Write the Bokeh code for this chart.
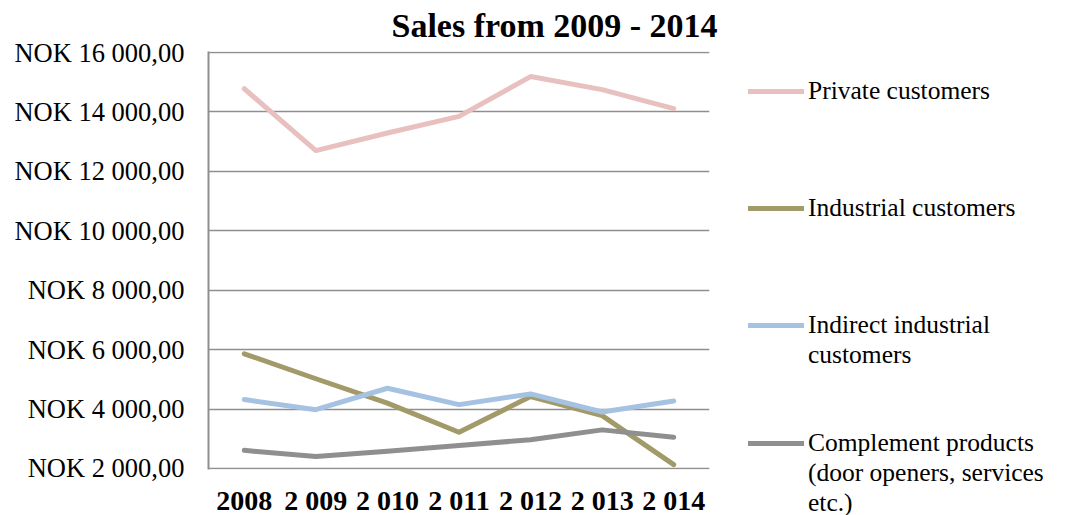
from bokeh.plotting import figure
from bokeh.models import FixedTicker, Legend, LegendItem, Title, FactorRange, Range1d
from bokeh.embed import file_html
from bokeh.resources import INLINE

years = ["2008", "2 009", "2 010", "2 011", "2 012", "2 013", "2 014"]
private_customers = [14780, 12700, 13290, 13850, 15190, 14750, 14110]
industrial_customers = [5860, 5020, 4200, 3220, 4420, 3780, 2130]
indirect_industrial = [4320, 3980, 4700, 4150, 4510, 3900, 4270]
complement_products = [2610, 2400, 2580, 2770, 2970, 3300, 3050]

y_ticks = [2000, 4000, 6000, 8000, 10000, 12000, 14000, 16000]
y_tick_labels = ["NOK 2 000,00", "NOK 4 000,00", "NOK 6 000,00", "NOK 8 000,00",
                 "NOK 10 000,00", "NOK 12 000,00", "NOK 14 000,00", "NOK 16 000,00"]

# legend labels, one entry per printed line
series_label_lines = [["Private customers"],
                      ["Industrial customers"],
                      ["Indirect industrial", "customers"],
                      ["Complement products", "(door openers, services", "etc.)"]]
series_values = [private_customers, industrial_customers, indirect_industrial, complement_products]
series_colors = ["#E8C0BF", "#A39A6A", "#A6C2E3", "#8F8F8F"]
# number of empty legend rows after each series block
legend_gaps = [3, 3, 2, 0]

FONT = "Liberation Serif"

p = figure(frame_width=501, frame_height=418, x_range=FactorRange(*years, range_padding=0),
           y_range=Range1d(1966, 16034), output_backend="svg", toolbar_location=None,
           min_border_left=208, min_border_right=368, min_border_top=51, min_border_bottom=46)
p.outline_line_color = None
p.background_fill_color = "white"

title = Title(text="Sales from 2009 - 2014", align="left", offset=183,
              vertical_align="top",
              text_font=FONT, text_font_size="34px", text_font_style="bold",
              text_color="black", standoff=11)
p.add_layout(title, "above")

renderers = []
for vals, col in zip(series_values, series_colors):
    r = p.line(years, vals, line_color=col, line_width=5, line_cap="round", line_join="round")
    renderers.append(r)

blank = p.line(x=[], y=[], line_alpha=0)

p.xgrid.grid_line_color = None
p.ygrid.grid_line_color = "#8F8F8F"
p.ygrid.grid_line_width = 1.5

p.yaxis.ticker = FixedTicker(ticks=y_ticks)
p.yaxis.major_label_overrides = {t: l for t, l in zip(y_ticks, y_tick_labels)}
p.yaxis.major_tick_line_color = None
p.yaxis.minor_tick_line_color = None
p.yaxis.axis_line_color = "#8F8F8F"
p.yaxis.axis_line_width = 2
p.yaxis.major_label_standoff = 18
p.yaxis.major_label_text_font = FONT
p.yaxis.major_label_text_font_size = "26.5px"
p.yaxis.major_label_text_color = "black"

p.xaxis.axis_line_color = None
p.xaxis.major_tick_line_color = None
p.xaxis.minor_tick_line_color = None
p.xaxis.major_label_standoff = 9
p.xaxis.major_label_text_font = FONT
p.xaxis.major_label_text_font_size = "28px"
p.xaxis.major_label_text_font_style = "bold"
p.xaxis.major_label_text_color = "black"

items = []
for lines, r, gap in zip(series_label_lines, renderers, legend_gaps):
    items.append(LegendItem(label=lines[0], renderers=[r]))
    items += [LegendItem(label=t, renderers=[blank]) for t in lines[1:]]
    items += [LegendItem(label=" ", renderers=[blank]) for _ in range(gap)]

legend = Legend(items=items, location=(39, -49), border_line_color=None,
                background_fill_alpha=0, padding=0, margin=0, spacing=0,
                glyph_width=56, glyph_height=20, label_standoff=4, label_height=29,
                label_text_font=FONT, label_text_font_size="25.5px", label_text_color="black")
p.add_layout(legend, "right")

open("out.html", "w").write(file_html(p, INLINE))
